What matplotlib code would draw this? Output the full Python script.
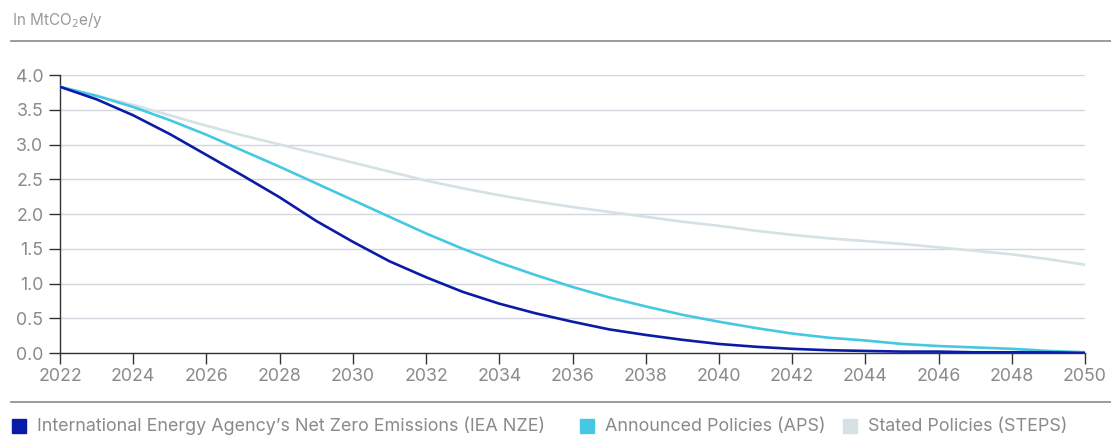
import matplotlib
matplotlib.use("Agg")
import matplotlib.pyplot as plt
from matplotlib.patches import Rectangle
from matplotlib.lines import Line2D

years = list(range(2022, 2051))
nze = [3.83, 3.65, 3.42, 3.15, 2.85, 2.55, 2.24, 1.90, 1.60, 1.32, 1.09, 0.88, 0.71, 0.57,
       0.45, 0.34, 0.26, 0.19, 0.13, 0.09, 0.06, 0.04, 0.03, 0.02, 0.02, 0.01, 0.01, 0.01, 0.0]
aps = [3.83, 3.70, 3.54, 3.35, 3.14, 2.91, 2.68, 2.44, 2.20, 1.96, 1.72, 1.50, 1.30, 1.12,
       0.95, 0.80, 0.67, 0.55, 0.45, 0.36, 0.28, 0.22, 0.18, 0.13, 0.10, 0.08, 0.06, 0.03, 0.01]
steps = [3.83, 3.70, 3.57, 3.42, 3.27, 3.13, 3.00, 2.87, 2.74, 2.61, 2.48, 2.37, 2.27, 2.18,
         2.10, 2.03, 1.96, 1.89, 1.83, 1.76, 1.70, 1.65, 1.61, 1.57, 1.52, 1.47, 1.42, 1.35, 1.27]
series_names = ["International Energy Agency\u2019s Net Zero Emissions (IEA NZE)",
                "Announced Policies (APS)", "Stated Policies (STEPS)"]
colors = ["#0a1ca6", "#45c8e2", "#d6e1e5"]
unit_label = "In MtCO$_2$e/y"
yticks = [0.0, 0.5, 1.0, 1.5, 2.0, 2.5, 3.0, 3.5, 4.0]
xticks = list(range(2022, 2051, 2))

plt.rcParams['font.family'] = ['Inter', 'DejaVu Sans']
W, H = 1111, 436
fig = plt.figure(figsize=(W / 100, H / 100), dpi=100)
ax = fig.add_axes([60 / W, 1 - 353 / H, (1085 - 60) / W, (353 - 75) / H])

for vals, c in zip([steps, aps, nze], colors[::-1]):
    ax.plot(years, vals, color=c, lw=1.9, solid_capstyle='round', zorder=3)

ax.set_xlim(2022, 2050)
ax.set_ylim(0, 4.0)
ax.set_yticks(yticks)
ax.set_yticklabels([f"{v:.1f}" for v in yticks])
ax.set_xticks(xticks)
ax.set_xticklabels([str(x) for x in xticks])
ax.grid(axis='y', color='#d3d6df', lw=1.0, zorder=0)
for s in ['top', 'right']:
    ax.spines[s].set_visible(False)
for s in ['left', 'bottom']:
    ax.spines[s].set_color('#333333')
    ax.spines[s].set_linewidth(1.0)
ax.tick_params(axis='both', colors='#333333', labelcolor='#8a8a8a', labelsize=12.8,
               length=8, width=1.0, direction='out')
ax.tick_params(axis='y', pad=4)
ax.tick_params(axis='x', pad=3)

fig.text(12 / W, 1 - 20 / H, unit_label, color='#9a9a9a', fontsize=11, va='center', ha='left')
fig.add_artist(Line2D([11 / W, 1.0], [1 - 41 / H, 1 - 41 / H], color='#8a8a8a', lw=1.2))
fig.add_artist(Line2D([11 / W, 1.0], [1 - 402 / H, 1 - 402 / H], color='#8a8a8a', lw=1.2))

leg_x = [12, 580, 843]
for x0, name, c in zip(leg_x, series_names, colors):
    fig.add_artist(Rectangle((x0 / W, 1 - 433 / H), 14 / W, 14 / H, color=c,
                             transform=fig.transFigure))
    fig.text((x0 + 25) / W, 1 - 426 / H, name, color='#8a8a8a', fontsize=12.9,
             va='center', ha='left')

fig.savefig("out.png", dpi=100)
